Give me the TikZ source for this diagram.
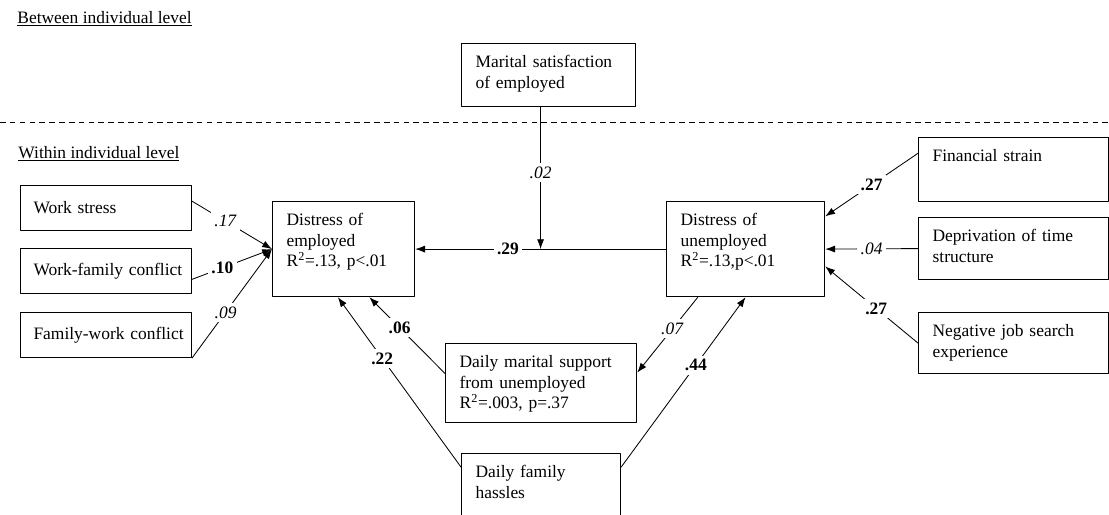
\documentclass[tikz,border=0pt]{standalone}
\usepackage{fontspec}
\setmainfont{Liberation Serif}
\usetikzlibrary{calc,arrows.meta}
\begin{document}
\begin{tikzpicture}[x=0.025cm, y=-0.025cm, font=\fontsize{12.4}{14.6}\selectfont, line join=round, >={Latex[length=7pt,width=5pt]},
	box/.style 2 args={draw, line width=0.8pt, anchor=north west, align=left, inner xsep=10pt, inner ysep=8pt, text height=9pt, text width=#1, text depth=#2},
	lbox/.style={draw, line width=0.8pt, anchor=north west, align=left, inner xsep=9.2pt, text width=103.1pt, minimum height=32pt},
	lab/.style={fill=white, inner sep=2.5pt},
	every path/.style={line width=0.6pt}]
			\useasboundingbox (0,0) rectangle (1109,514);
			\node[anchor=base west, inner sep=0pt] (btw) at (17,23) {\underline{Between individual level}};
			\node[anchor=base west, inner sep=0pt] (wth) at (18,158) {\underline{Within individual level}};
			\draw[dash pattern=on 4pt off 3pt] (0,122) -- (1109,122);
			\node[box={103.8pt}{19.8pt}] (ms) at (461,43) {Marital satisfaction\\of employed};
			\node[lbox] (ws) at (20,185) {Work stress};
			\node[lbox] (wf) at (20,248) {\mbox{Work-family conflict}};
			\node[lbox] (fw) at (20,312) {\mbox{Family-work conflict}};
			\node[box={81pt}{42.6pt}] (de) at (272,201) {Distress of\\employed\\R\textsuperscript{2}=.13, p<.01};
			\node[box={92.4pt}{42.6pt}] (du) at (666,201) {Distress of\\unemployed\\R\textsuperscript{2}=.13,p<.01};
			\node[box={115.1pt}{20.5pt}] (fs) at (918,137) {Financial strain};
			\node[box={115.1pt}{19.1pt}] (dt) at (918,217) {Deprivation of time\\structure};
			\node[box={115.1pt}{18.4pt}] (nj) at (918,312) {Negative job search\\experience};
			\node[box={115.9pt}{31.2pt}] (dm) at (445,343) {Daily marital support\\from unemployed\\R\textsuperscript{2}=.003, p=.37};
			\node[box={93.1pt}{29.8pt}] (dh) at (461,453) {Daily family\\hassles};
			\coordinate (mo) at ($(du.west)!0.5!(de.east)$);
			\draw[->] ($(ws.north east)!0.35!(ws.south east)$) -- node[lab,pos=0.42]{\textit{.17}} (de.west);
			\draw[->] ($(wf.north east)!0.68!(wf.south east)$) -- node[lab,pos=0.38]{\textbf{.10}} (de.west);
			\draw[->] (fw.south east) -- node[lab,pos=0.42]{\textit{.09}} (de.west);
			\draw[->] (du.west) -- node[lab,pos=0.63]{\textbf{.29}} (de.east);
			\draw[->] (mo |- ms.south) -- node[lab,pos=0.46]{\textit{.02}} (mo);
			\draw[->] ($(fs.north west)!0.25!(fs.south west)$) -- node[lab]{\textbf{.27}} ($(du.north east)!0.16!(du.south east)$);
			\draw[->] (dt.west) -- node[lab]{\textit{.04}} (du.east);
			\draw[->] (nj.west) -- node[lab,pos=0.45]{\textbf{.27}} ($(du.north east)!0.68!(du.south east)$);
			\draw[->] ($(du.south west)!0.2!(du.south east)$) -- node[lab,pos=0.42]{\textit{.07}} ($(dm.north east)!0.37!(dm.south east)$);
			\draw[->] ($(dh.north east)!0.18!(dh.south east)$) -- node[lab,pos=0.6]{\textbf{.44}} (du.south);
			\draw[->] ($(dh.north west)!0.18!(dh.south west)$) -- node[lab,pos=0.64]{\textbf{.22}} ($(de.south west)!0.46!(de.south east)$);
			\draw[->] ($(dm.north west)!0.38!(dm.south west)$) -- node[lab,pos=0.6]{\textbf{.06}} ($(de.south west)!0.68!(de.south east)$);
		\end{tikzpicture}
\end{document}
